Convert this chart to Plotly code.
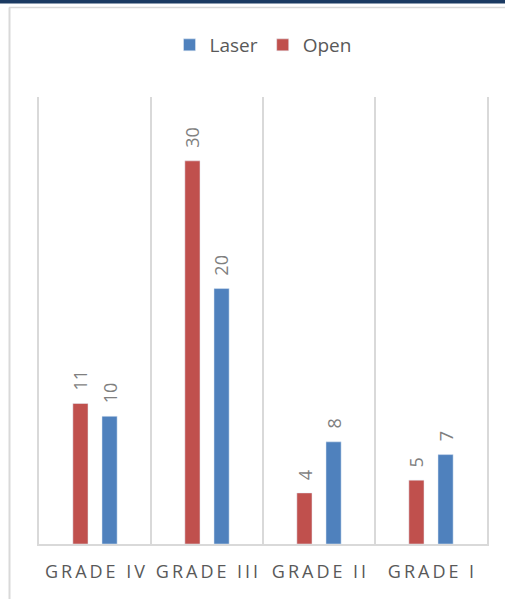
import plotly.graph_objects as go

categories = ["GRADE IV", "GRADE III", "GRADE II", "GRADE I"]
open_vals = [11, 30, 4, 5]
laser_vals = [10, 20, 8, 7]

RED = "#C0504D"
BLUE = "#4F81BD"
TXT = "#595959"
LBL = "#7F7F7F"
GRID = "#D9D9D9"
FONT = "Open Sans"
BARGAP = 0.48
BARGROUPGAP = 0.48

THIN = "\u2009"
disp = [THIN.join(list(c)) for c in categories]

fig = go.Figure()
fig.add_trace(go.Bar(name="Open", x=disp, y=open_vals, marker_color=RED))
fig.add_trace(go.Bar(name="Laser", x=disp, y=laser_vals, marker_color=BLUE))

off = (1 - BARGAP) / 4
annotations = []
for i in range(len(categories)):
    for vals, sgn in ((open_vals, -1), (laser_vals, 1)):
        annotations.append(dict(
            x=i + sgn * off, y=vals[i], xref="x", yref="y",
            text=str(vals[i]), showarrow=False, textangle=-90,
            xanchor="center", yanchor="bottom", yshift=11,
            font=dict(family=FONT, size=18, color=LBL)))

W, H = 505, 599
L, R, T, B = 39, 18, 97, 55
pw, ph = W - L - R, H - T - B

def px2x(px):
    return (px - L) / pw

def py2y(py):
    return (H - B - py) / ph

shapes = [
    dict(type="rect", xref="paper", yref="paper",
         x0=px2x(-5), x1=px2x(510), y0=py2y(3.5), y1=py2y(-5),
         fillcolor="#1B3A62", line_width=0, layer="above"),
    dict(type="line", xref="paper", yref="paper",
         x0=px2x(9), x1=px2x(510), y0=py2y(7.5), y1=py2y(7.5),
         line=dict(color=GRID, width=1.5)),
    dict(type="line", xref="paper", yref="paper",
         x0=px2x(9.5), x1=px2x(9.5), y0=py2y(7.5), y1=py2y(610),
         line=dict(color=GRID, width=2)),
]

fig.update_layout(
    width=W, height=H,
    margin=dict(l=L, r=R, t=T, b=B),
    paper_bgcolor="white", plot_bgcolor="white",
    barmode="group", bargap=BARGAP, bargroupgap=BARGROUPGAP,
    font=dict(family=FONT, color=TXT),
    showlegend=True,
    legend=dict(orientation="h", x=0.5, xanchor="center",
                y=py2y(45), yanchor="middle", traceorder="reversed",
                itemwidth=30,
                font=dict(family=FONT, size=19, color=TXT)),
    annotations=annotations,
    shapes=shapes,
)
fig.update_xaxes(type="category", tickson="boundaries", showgrid=True,
                 gridcolor=GRID, gridwidth=1.5, showline=True, linecolor=GRID,
                 linewidth=1.5, ticks="", range=[-0.5, 3.5],
                 ticklabelstandoff=11,
                 tickfont=dict(family=FONT, size=18, color=TXT))
fig.update_yaxes(range=[0, 35], showgrid=False, showticklabels=False,
                 zeroline=False, showline=True, mirror=True, linecolor=GRID,
                 linewidth=1.5, ticks="")

fig.write_html("out.html")
